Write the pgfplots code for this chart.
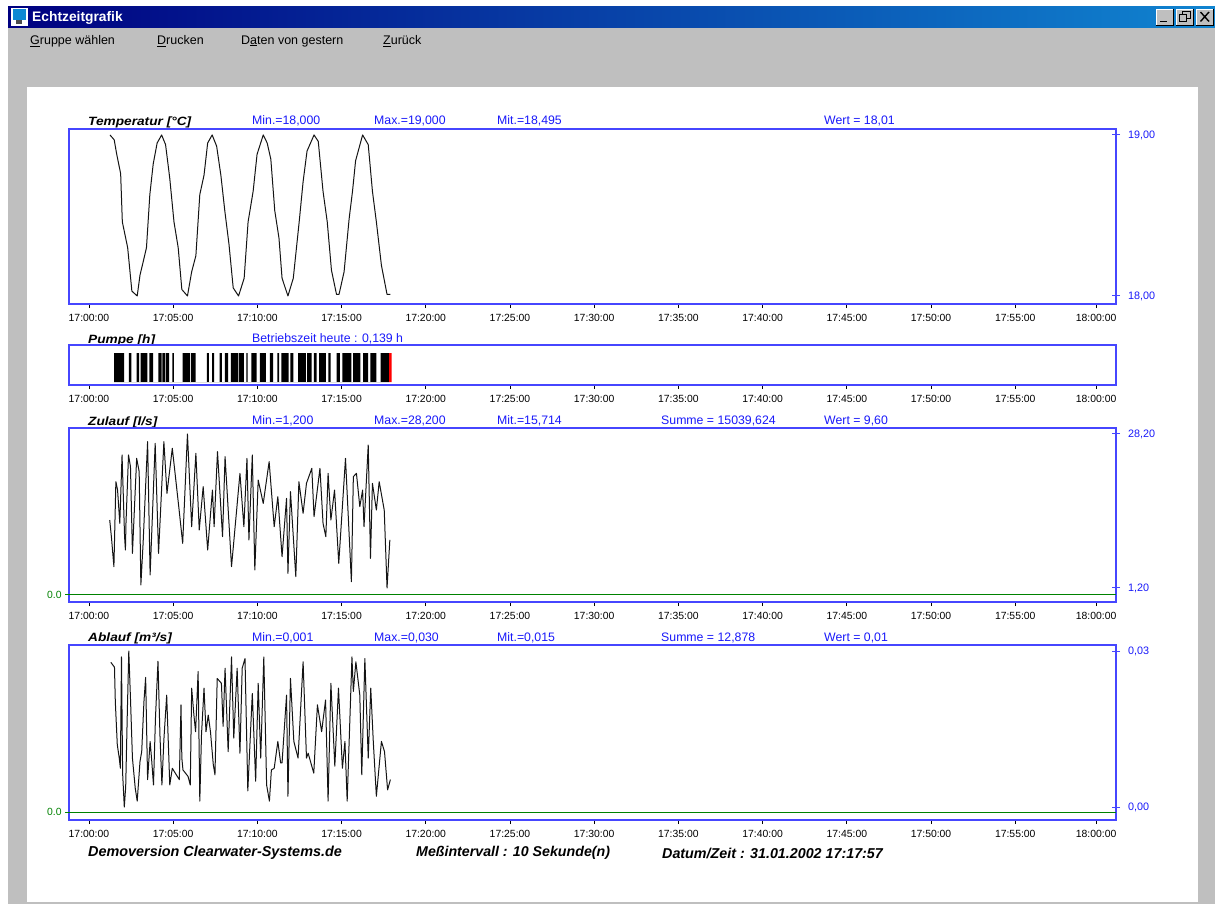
\documentclass[border=0pt]{standalone}
\usepackage{pgfplots}
\pgfplotsset{compat=1.18}
\usepackage{fontspec}
\setmainfont{Liberation Sans}
\definecolor{axblue}{RGB}{70,70,255}
\definecolor{txtblue}{RGB}{25,25,250}
\definecolor{grn}{RGB}{0,130,0}
\definecolor{wgrey}{RGB}{191,191,191}
\definecolor{tbl}{RGB}{0,0,128}
\definecolor{tbr}{RGB}{16,132,208}
\newcommand\fs[1]{\fontsize{#1}{#1}\selectfont}
\newcommand\T[3]{\node[anchor=west,inner sep=0pt,text=txtblue,font=\fs{12.3}] at (#1,#2) {#3};}
\newcommand\BB[5][1.0]{\node[anchor=west,inner sep=0pt,text=black,font=\fs{#2}\bfseries\itshape,xscale=#1] at (#3,#4) {#5};}
\pgfplotsset{
 panel/.style={scale only axis,width=1047pt,anchor=north west,
  xmin=-71,xmax=3659,
  xtick={0,300,600,900,1200,1500,1800,2100,2400,2700,3000,3300,3588},
  xticklabels={17:00:00,17:05:00,17:10:00,17:15:00,17:20:00,17:25:00,17:30:00,17:35:00,17:40:00,17:45:00,17:50:00,17:55:00,18:00:00},
  xtick pos=bottom,ytick pos=right,xtick align=outside,ytick align=center,
  major tick length=4pt,minor tick length=8pt,scaled y ticks=false,
  axis line style={draw=axblue,line width=1.2pt},
  major x tick style={black,line width=.8pt},
  major y tick style={draw=none},
  minor y tick style={axblue,line width=1pt},
  xticklabel style={font=\fs{10.4},inner sep=0pt,yshift=-5.6pt,text=black},
  yticklabel style={font=\fs{10.8},inner sep=0pt,text=txtblue,xshift=10pt},
  clip=false},
 trace/.style={black!92,line width=1pt,line join=round}}
\begin{document}
\begin{tikzpicture}
\begin{scope}[x=1pt,y=-1pt]
\path[use as bounding box,fill=white] (0,0) rectangle (1215,904);
\fill[wgrey] (8,28) rectangle (1215,904);
\fill[white] (27,87) rectangle (1198,902);
\shade[left color=tbl,right color=tbr] (8,7) rectangle (1215,28);
% icon
\fill[white] (10.5,8) rectangle (28,26);
\fill[black!70] (16,20) rectangle (22,24);
\fill[cyan!70!blue] (12.5,9.5) rectangle (26,20);
% window buttons
\foreach \a in {1156,1176,1196}{
 \fill[wgrey] (\a,9) rectangle (\a+17,25);
 \draw[white,line width=.8pt] (\a,25) -- (\a,9) -- (\a+17,9);
 \draw[black,line width=.8pt] (\a+17,9) -- (\a+17,25) -- (\a,25);}
\draw[black,line width=1.6pt] (1160,21.5) -- (1167,21.5);
\draw[black,line width=.9pt] (1182,11.5) rectangle (1190,18);
\fill[wgrey] (1179,14) rectangle (1186,21.5);
\draw[black,line width=.9pt] (1179,14.5) rectangle (1186,21.5);
\draw[black,line width=1.4pt] (1200.5,12) -- (1209,21.5) (1209,12) -- (1200.5,21.5);
\node[anchor=west,inner sep=0pt,text=white,font=\fs{13.8}\bfseries] at (32,18) {Echtzeitgrafik};
\node[anchor=west,inner sep=0pt,font=\fs{12.5}] at (30,41) {\underline{G}ruppe wählen};
\node[anchor=west,inner sep=0pt,font=\fs{12.5}] at (157,41) {\underline{D}rucken};
\node[anchor=west,inner sep=0pt,font=\fs{12.5}] at (241,41) {D\underline{a}ten von gestern};
\node[anchor=west,inner sep=0pt,font=\fs{12.5}] at (383,41) {\underline{Z}urück};
% panel headers
\BB[1.14]{12}{88}{122}{Temperatur [°C]}
\T{252}{121}{Min.=18,000}\T{374}{121}{Max.=19,000}\T{497}{121}{Mit.=18,495}\T{824}{121}{Wert = 18,01}
\BB[1.14]{12}{88}{340}{Pumpe [h]}
\T{252}{339}{Betriebszeit heute : 0,139 h}
\BB[1.14]{12}{88}{422}{Zulauf [l/s]}
\T{252}{420.5}{Min.=1,200}\T{374}{420.5}{Max.=28,200}\T{497}{420.5}{Mit.=15,714}\T{661}{420.5}{Summe = 15039,624}\T{824}{420.5}{Wert = 9,60}
\BB[1.14]{12}{88}{638}{Ablauf [m³/s]}
\T{252}{637.5}{Min.=0,001}\T{374}{637.5}{Max.=0,030}\T{497}{637.5}{Mit.=0,015}\T{661}{637.5}{Summe = 12,878}\T{824}{637.5}{Wert = 0,01}
\BB[1.0]{14.4}{88}{853}{Demoversion Clearwater-Systems.de}
\BB[1.0]{14.2}{416}{853}{Meßintervall : 10 Sekunde(n)}
\BB[1.0]{14.3}{662}{853}{Datum/Zeit : 31.01.2002 17:17:57}
\node[anchor=west,inner sep=0pt,text=grn,font=\fs{10.4}] at (47,594.5) {0.0};
\node[anchor=west,inner sep=0pt,text=grn,font=\fs{10.4}] at (47,812) {0.0};
\end{scope}
% Temperatur
\begin{axis}[panel,at={(69pt,-129pt)},height=175pt,ymin=17.95,ymax=19.037,ytick={18,19},minor ytick={18,19},yticklabels={{18,00},{19,00}}]
\addplot[trace] coordinates {(75,19.00)(90,18.97)(99,18.88)(113,18.76)(119,18.46)(138,18.30)(153,18.03)(172,18.00)(182,18.13)(193,18.21)(205,18.30)(217,18.63)(229,18.82)(243,18.95)(259,19.00)(273,18.94)(288,18.73)(303,18.46)(318,18.30)(331,18.04)(351,18.00)(366,18.15)(381,18.25)(395,18.63)(410,18.75)(423,18.95)(439,19.00)(455,18.93)(470,18.75)(484,18.53)(499,18.32)(514,18.05)(533,18.00)(553,18.11)(567,18.46)(585,18.65)(599,18.88)(621,19.00)(635,18.95)(648,18.85)(662,18.53)(677,18.36)(688,18.11)(709,18.00)(728,18.11)(749,18.46)(763,18.71)(777,18.90)(802,19.00)(817,18.96)(834,18.65)(849,18.46)(864,18.16)(882,18.01)(891,18.01)(909,18.15)(927,18.48)(939,18.65)(950,18.84)(975,19.00)(995,18.94)(1010,18.65)(1024,18.46)(1042,18.19)(1062,18.01)(1074,18.01)};
\end{axis}
% Pumpe
\begin{axis}[panel,at={(69pt,-345pt)},height=40pt,ymin=-0.103,ymax=1.276,ytick=\empty]
\addplot[const plot,fill=black,draw=none] coordinates {(90,1)(125,0)(142,1)(151,0)(170,1)(179,0)(184,1)(208,0)(215,1)(229,0)(247,1)(259,0)(262,1)(272,0)(275,1)(286,0)(297,1)(303,0)(334,1)(360,0)(363,1)(380,0)(420,1)(427,0)(439,1)(446,0)(466,1)(474,0)(484,1)(496,0)(506,1)(532,0)(535,1)(552,0)(561,1)(565,0)(579,1)(597,0)(609,1)(630,0)(645,1)(656,0)(671,1)(678,0)(686,1)(711,0)(718,1)(728,0)(745,1)(773,0)(777,1)(793,0)(801,1)(811,0)(820,1)(844,0)(853,1)(861,0)(882,1)(894,0)(903,1)(935,0)(941,1)(967,0)(977,1)(995,0)(1003,1)(1024,0)(1039,1)(1069,0)} \closedcycle;
\addplot[const plot,fill=red,draw=none] coordinates {(1069,1)(1078,1)} \closedcycle;
\end{axis}
% Zulauf
\begin{axis}[panel,at={(69pt,-428pt)},height=174pt,ymin=-1.255,ymax=29.25,ytick={1.2,28.2},minor ytick={1.2,28.2},yticklabels={{1,20},{28,20}}]
\addplot[grn,line width=1pt] coordinates {(-85,0)(3659,0)};
\addplot[trace] coordinates {(74,13.12)(80,10.2)(89,4.94)(96,19.84)(102,18.38)(110,12.54)(118,24.52)(127,10.2)(130,7.86)(132,12.54)(141,24.52)(148,22.47)(155,7.28)(170,23.93)(179,21.6)(185,1.73)(193,9.03)(209,26.86)(218,3.48)(236,26.56)(248,7.28)(267,26.86)(278,17.8)(297,25.69)(320,15.46)(334,9.03)(351,28.2)(366,11.95)(381,24.81)(393,11.37)(407,18.97)(423,7.86)(440,18.38)(446,11.95)(458,25.1)(476,10.2)(485,24.23)(508,4.94)(538,21.3)(552,11.95)(563,23.93)(570,9.62)(582,24.52)(591,4.36)(603,20.13)(621,16.04)(642,23.35)(660,11.95)(673,17.21)(688,6.69)(704,16.92)(709,3.77)(718,18.09)(737,3.19)(748,19.84)(763,14.29)(775,19.55)(794,22.18)(802,13.71)(823,22.18)(834,12.54)(844,10.2)(852,21.3)(862,13.12)(875,18.38)(890,5.52)(914,23.93)(935,2.31)(942,20.72)(953,21.3)(965,15.46)(975,18.38)(980,11.95)(995,26.27)(1003,6.4)(1010,19.55)(1024,14.87)(1034,19.84)(1052,14.87)(1062,1.2)(1072,9.62)};
\end{axis}
% Ablauf
\begin{axis}[panel,at={(69pt,-645pt)},height=175pt,ymin=-0.00141,ymax=0.03112,ytick={0.001,0.03},minor ytick={0.001,0.03},yticklabels={{0,00},{0,03}}]
\addplot[grn,line width=1pt] coordinates {(-85,0)(3659,0)};
\addplot[trace] coordinates {(78,.0279)(91,.0270)(94,.0206)(101,.0126)(108,.0101)(112,.0082)(116,.0289)(120,.0073)(126,.0010)(131,.0048)(137,.0191)(142,.0300)(148,.0212)(155,.0101)(165,.0045)(172,.0021)(182,.0095)(188,.0113)(196,.0206)(202,.0251)(209,.0061)(218,.0132)(223,.0101)(230,.0051)(237,.0175)(246,.0281)(253,.0144)(260,.0051)(267,.0135)(277,.0218)(288,.0051)(297,.0082)(322,.0061)(328,.0200)(331,.0101)(335,.0079)(353,.0067)(361,.0051)(366,.0231)(374,.0181)(380,.0150)(389,.0262)(395,.0021)(401,.0144)(410,.0231)(417,.0150)(425,.0181)(433,.0150)(443,.0089)(449,.0070)(457,.0249)(472,.0240)(478,.0160)(485,.0268)(496,.0113)(508,.0289)(516,.0138)(528,.0268)(538,.0110)(546,.0268)(556,.0286)(566,.0040)(582,.0221)(594,.0058)(603,.0240)(612,.0101)(623,.0289)(633,.0051)(643,.0021)(650,.0079)(660,.0082)(673,.0132)(683,.0092)(688,.0092)(704,.0218)(709,.0030)(718,.0249)(730,.0132)(745,.0101)(763,.0280)(775,.0101)(781,.0110)(801,.0073)(814,.0200)(829,.0150)(843,.0209)(852,.0021)(862,.0240)(876,.0086)(889,.0231)(903,.0082)(912,.0132)(920,.0021)(937,.0289)(942,.0225)(951,.0280)(965,.0218)(972,.0070)(983,.0286)(995,.0101)(1004,.0231)(1013,.0132)(1024,.0030)(1042,.0132)(1053,.0113)(1064,.0042)(1074,.0061)};
\end{axis}
\end{tikzpicture}
\end{document}
